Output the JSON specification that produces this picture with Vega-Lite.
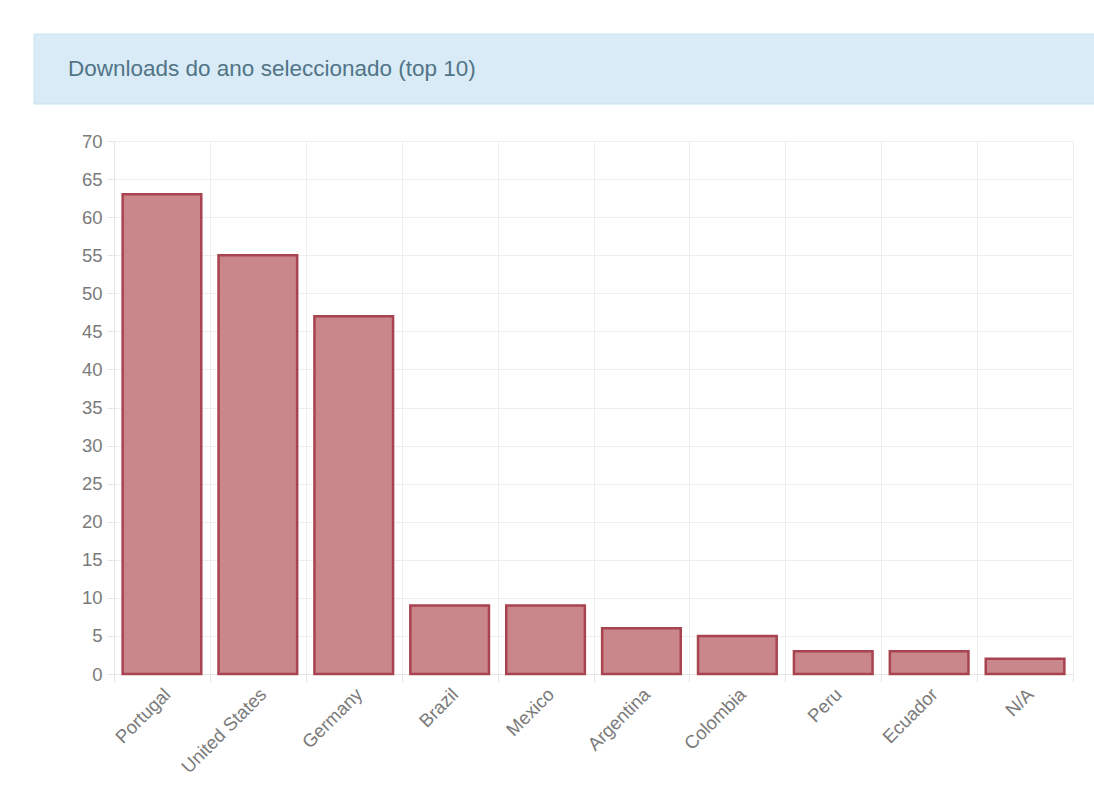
{
  "$schema": "https://vega.github.io/schema/vega-lite/v6.json",
  "background": "white",
  "padding": {"left": 33, "top": 33, "right": 0, "bottom": 0},
  "config": {"view": {"stroke": null}, "font": "Liberation Sans"},
  "spacing": 27,
  "vconcat": [
    {
      "width": 1061,
      "height": 70,
      "data": {"values": [{"panel": "header"}]},
      "mark": {"type": "rect", "fill": "#d8ebf6", "stroke": "#c8e3f1", "strokeWidth": 1},
      "encoding": {},
      "title": {
        "text": "Downloads do ano seleccionado (top 10)",
        "anchor": "start",
        "frame": "group",
        "orient": "top",
        "offset": 0,
        "dx": 34,
        "dy": 65,
        "baseline": "alphabetic",
        "fontSize": 22.5,
        "fontWeight": "normal",
        "font": "Liberation Sans",
        "color": "#527487"
      }
    },
    {
      "spacing": 0,
      "hconcat": [
        {
          "width": 47,
          "height": 10,
          "data": {"values": []},
          "mark": "rect",
          "encoding": {}
        },
        {
          "width": 959,
          "height": 533,
          "data": {
            "values": [
              {"country": "Portugal", "downloads": 63},
              {"country": "United States", "downloads": 55},
              {"country": "Germany", "downloads": 47},
              {"country": "Brazil", "downloads": 9},
              {"country": "Mexico", "downloads": 9},
              {"country": "Argentina", "downloads": 6},
              {"country": "Colombia", "downloads": 5},
              {"country": "Peru", "downloads": 3},
              {"country": "Ecuador", "downloads": 3},
              {"country": "N/A", "downloads": 2}
            ]
          },
          "mark": {"type": "bar", "width": {"band": 0.82}, "fill": "#c9868b", "stroke": "#a8434f", "strokeWidth": 2.5},
          "encoding": {
            "x": {
              "field": "country",
              "type": "nominal",
              "sort": null,
              "scale": {"paddingInner": 0, "paddingOuter": 0},
              "axis": {
                "title": null,
                "labelAngle": -45,
                "labelAlign": "right",
                "labelBaseline": "middle",
                "labelFontSize": 18.5,
                "labelColor": "#7a7a7a",
                "labelPadding": 9,
                "labelOffset": 5,
                "tickBand": "extent",
                "grid": true,
                "gridColor": "#eeeeee",
                "tickColor": "#e6e6e6",
                "tickSize": 8,
                "domainColor": "#e6e6e6"
              }
            },
            "y": {
              "field": "downloads",
              "type": "quantitative",
              "scale": {"domain": [0, 70], "nice": false},
              "axis": {
                "title": null,
                "values": [0, 5, 10, 15, 20, 25, 30, 35, 40, 45, 50, 55, 60, 65, 70],
                "labelFontSize": 18.5,
                "labelColor": "#7a7a7a",
                "labelPadding": 5,
                "gridColor": "#eeeeee",
                "tickColor": "#e6e6e6",
                "tickSize": 7,
                "domain": true,
                "domainColor": "#e6e6e6"
              }
            }
          }
        }
      ]
    }
  ]
}
